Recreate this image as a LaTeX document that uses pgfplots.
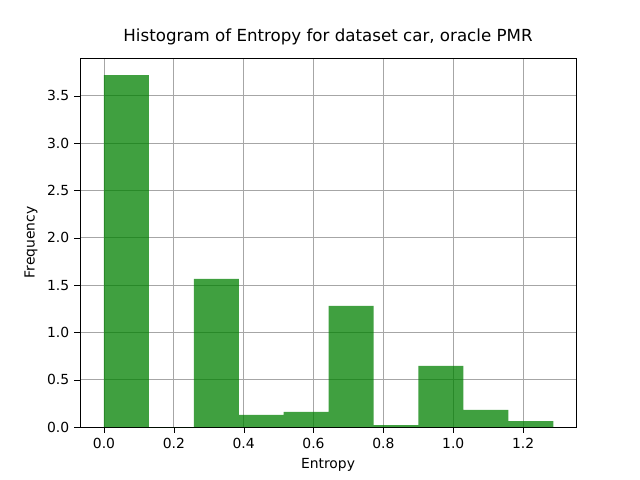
\documentclass[border=0pt]{standalone}
\usepackage{pgfplots}
\pgfplotsset{compat=1.18}
\usepackage{fontspec}
\setmainfont{DejaVu Sans}
\begin{document}
\begin{tikzpicture}
\useasboundingbox (-57.6pt,-38.16pt) rectangle (403.2pt,307.44pt);
\begin{axis}[at={(0,0)},anchor=south west,scale only axis,width=357.12pt,height=265.68pt,
  xmin=-0.0687,xmax=1.3516,ymin=0,ymax=3.90,
  xtick={0,0.2,...,1.2},ytick={0,0.5,...,3.5},
  xticklabel style={/pgf/number format/.cd,fixed,fixed zerofill,precision=1},
  yticklabel style={/pgf/number format/.cd,fixed,fixed zerofill,precision=1},
  /pgf/number format/assume math mode=true,
  ticklabel style={font=\fontsize{10}{12}\selectfont},
  label style={font=\fontsize{10}{12}\selectfont},
  grid=major, grid style={gray!70,line width=0.6pt},
  tick align=outside, tick style={black},
  xtick pos=bottom, ytick pos=left,
  title={Histogram of Entropy for dataset car, oracle PMR},
  title style={font=\fontsize{12}{14}\selectfont},
  xlabel={Entropy}, ylabel={Frequency}]
\addplot[ybar interval, fill={rgb,255:red,0;green,128;blue,0}, fill opacity=0.75, draw=none] coordinates {
(0.0,3.72) (0.1286,0) (0.2573,1.565) (0.3859,0.127) (0.5146,0.159) (0.6432,1.28) (0.7719,0.02) (0.9005,0.645) (1.0292,0.18) (1.1578,0.063) (1.2865,0.063)};
\end{axis}
\end{tikzpicture}
\end{document}
